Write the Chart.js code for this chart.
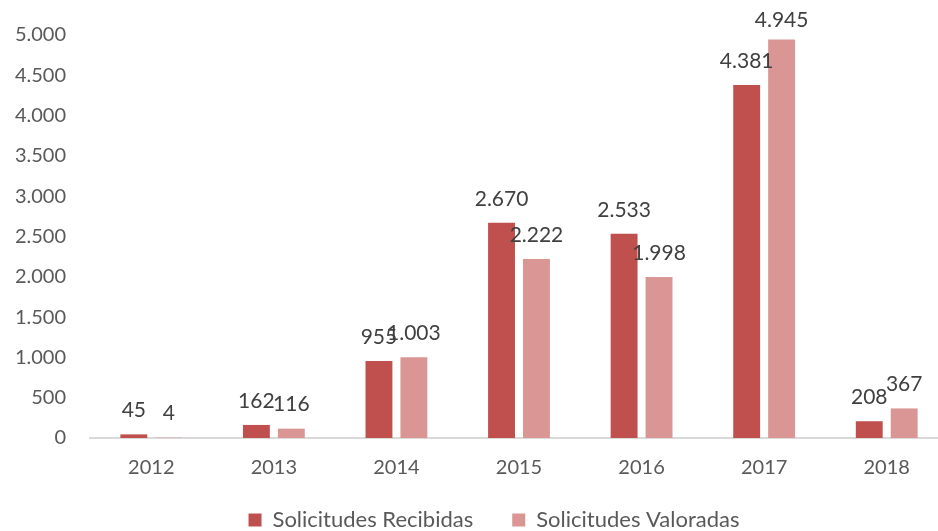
<!DOCTYPE html>
<html>
<head>
<meta charset="utf-8">
<script src="https://cdn.jsdelivr.net/npm/chart.js@4.4.1/dist/chart.umd.min.js"></script>
<style>
  html, body { margin: 0; padding: 0; background: #fff; overflow: hidden; }
  .chart-box { position: relative; width: 950px; height: 541px; }
</style>
</head>
<body>
<div class="chart-box"><canvas id="solicitudesChart"></canvas></div>
<script>
const years = ['2012', '2013', '2014', '2015', '2016', '2017', '2018'];
const recibidas = [45, 162, 955, 2670, 2533, 4381, 208];
const valoradas = [4, 116, 1003, 2222, 1998, 4945, 367];
const seriesNames = ['Solicitudes Recibidas', 'Solicitudes Valoradas'];
const yTicks = [0, 500, 1000, 1500, 2000, 2500, 3000, 3500, 4000, 4500, 5000];

const fontFamily = 'Lato, "Open Sans", sans-serif';

const formatNumber = (value) => String(value).replace(/\B(?=(\d{3})+(?!\d))/g, '.');

// etiquetas de valor encima de cada barra
const dataLabels = {
  id: 'dataLabels',
  afterDatasetsDraw(chart) {
    const { ctx } = chart;
    ctx.save();
    ctx.font = `21px ${fontFamily}`;
    ctx.fillStyle = '#404040';
    ctx.textAlign = 'center';
    ctx.textBaseline = 'middle';
    chart.data.datasets.forEach((dataset, i) => {
      const meta = chart.getDatasetMeta(i);
      meta.data.forEach((bar, j) => {
        const y = Math.max(bar.y - 24, 20);
        ctx.fillText(formatNumber(dataset.data[j]), bar.x, y);
      });
    });
    ctx.restore();
  },
};

new Chart(document.getElementById('solicitudesChart'), {
  type: 'bar',
  data: {
    labels: years,
    datasets: [
      {
        label: seriesNames[0],
        data: recibidas,
        backgroundColor: '#C0504D',
        categoryPercentage: 0.57,
        barPercentage: 0.77,
      },
      {
        label: seriesNames[1],
        data: valoradas,
        backgroundColor: '#D99694',
        categoryPercentage: 0.57,
        barPercentage: 0.77,
      },
    ],
  },
  options: {
    responsive: true,
    maintainAspectRatio: false,
    animation: false,
    layout: { padding: { top: 35, right: 2, left: 40, bottom: 0 } },
    plugins: {
      legend: {
        position: 'bottom',
        labels: {
          boxWidth: 13,
          boxHeight: 13,
          padding: 39,
          color: '#595959',
          font: { family: fontFamily, size: 22 },
        },
      },
      tooltip: { enabled: false },
    },
    scales: {
      x: {
        afterFit: (scale) => {
          scale.height = 32;
          // the year labels sit a bit below the axis box, so no clipping
          scale._computeLabelArea = () => undefined;
        },
        grid: { display: false },
        border: { display: true, color: '#D9D9D9', width: 2 },
        ticks: {
          color: '#595959',
          padding: 10,
          font: { family: fontFamily, size: 20 },
        },
      },
      y: {
        min: 0,
        max: 5000,
        afterFit: (scale) => {
          scale.width = 50;
          scale._computeLabelArea = () => undefined;
        },
        afterBuildTicks: (scale) => { scale.ticks = yTicks.map(v => ({ value: v })); },
        grid: { display: false },
        border: { display: false },
        ticks: {
          color: '#595959',
          padding: 16,
          font: { family: fontFamily, size: 20 },
          callback: (value) => formatNumber(value),
        },
      },
    },
  },
  plugins: [dataLabels],
});
</script>
</body>
</html>
